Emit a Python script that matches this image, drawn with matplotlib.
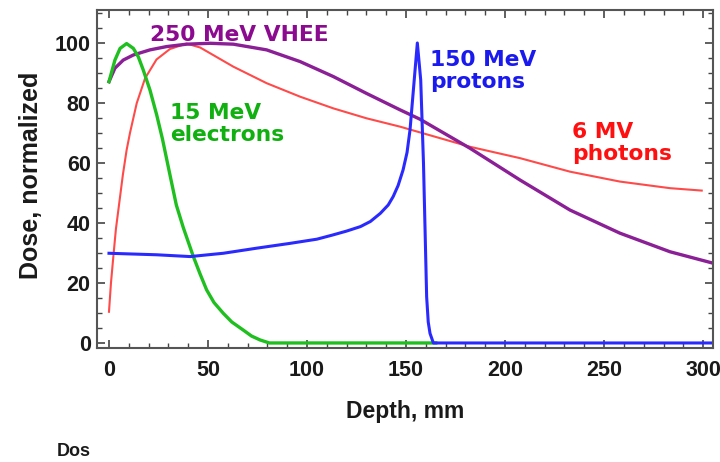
import matplotlib
matplotlib.use("Agg")
import matplotlib.pyplot as plt
from matplotlib.ticker import MultipleLocator

# depth (mm) / normalized dose
electron_depth = [0, 3, 5.6, 8.9, 12.3, 14.8, 17.3, 20.7, 24.1, 27, 30.8, 34, 37.5, 42.6, 46,
                  49.3, 53, 57.7, 62, 67.8, 72, 76.3, 81, 165]
electron_dose = [87.1, 94.3, 98.2, 99.8, 98.2, 95.4, 91, 84.3, 76, 68, 56, 46, 38.5, 28.8, 23,
                 17.7, 13.5, 9.9, 7, 4.3, 2.3, 1, 0, 0]

photon_depth = [0, 1, 2.2, 3.5, 5.6, 7, 8.9, 10.6, 14, 18.2, 24, 30.8, 39.2, 46, 62.8, 79.6,
                96.5, 113.3, 130, 147, 157, 182.3, 207.6, 232.8, 258, 283.3, 299.3]
photon_dose = [10.4, 20, 28.8, 38, 48.8, 56, 64.3, 70, 79.9, 88.2, 94.5, 98, 99.8, 98.5, 92.1,
               86.6, 82.1, 78.2, 74.9, 72.1, 70.2, 65.4, 61.6, 57.1, 53.8, 51.6, 50.8]

vhee_depth = [0, 3, 7.2, 12.3, 20.7, 29.1, 39.2, 51, 62.8, 79.6, 96.5, 113.3, 130, 147, 157,
              182.3, 207.6, 232.8, 258, 283.3, 305]
vhee_dose = [87.1, 91.6, 94.3, 96, 97.7, 98.8, 99.6, 99.9, 99.6, 97.7, 93.8, 88.8, 83.2, 77.7,
             74.6, 64.9, 54.3, 44.3, 36.6, 30.4, 26.6]

proton_depth = [0, 24, 41, 57.7, 74.6, 91.4, 105, 113, 120, 127, 132, 137, 141, 143.5,
                146, 148.5, 150.5, 152, 153.7, 155.7, 157.4, 158.8, 159.6, 160.4, 161.2,
                162.1, 163.8, 305]
proton_dose = [29.9, 29.4, 28.8, 29.9, 31.6, 33.2, 34.6, 36, 37.3, 38.8, 40.5, 43.2, 46,
               48.8, 52.5, 57.7, 63.5, 71, 84.3, 100, 87.7, 60, 37.7, 15.4, 7, 3.2, 0, 0]

x_ticks = [0, 50, 100, 150, 200, 250, 300]
y_ticks = [0, 20, 40, 60, 80, 100]

c_green = '#1fbf1f'
c_red = '#ff4a4a'
c_purple = '#8a1f96'
c_blue = '#2a2aff'

fig = plt.figure(figsize=(7.2, 4.62), dpi=100)
ax = fig.add_axes([0.1347, 0.2468, 0.8556, 0.7316])

ax.plot(photon_depth, photon_dose, color=c_red, lw=1.5)
ax.plot(vhee_depth, vhee_dose, color=c_purple, lw=2.4)
ax.plot(electron_depth, electron_dose, color=c_green, lw=2.4)
ax.plot(proton_depth, proton_dose, color=c_blue, lw=2.2)

ax.set_xlim(-6.06, 305)
ax.set_ylim(-1.67, 111)
ax.set_xticks(x_ticks)
ax.set_yticks(y_ticks)
ax.xaxis.set_minor_locator(MultipleLocator(10))
ax.yaxis.set_minor_locator(MultipleLocator(5))

tick_font = dict(family='Liberation Sans', weight='bold', size=15.5)
ax.set_xticklabels([str(v) for v in x_ticks], fontdict=tick_font, color='#1a1a1a')
ax.set_yticklabels([str(v) for v in y_ticks], fontdict=tick_font, color='#1a1a1a')
ax.tick_params(which='both', direction='in', top=True, right=True, color='#444444')
ax.tick_params(which='major', length=6, width=1.2)
ax.tick_params(which='minor', length=3.5, width=1.0)
ax.tick_params(axis='x', pad=8.5)
ax.tick_params(axis='y', pad=4.5)
for s in ax.spines.values():
    s.set_color('#555555')
    s.set_linewidth(1.5)

ax.set_xlabel('Depth, mm', family='Liberation Sans', weight='bold', size=16.5, color='#1a1a1a')
ax.xaxis.set_label_coords(0.5, -0.154)
ax.set_ylabel('Dose, normalized', family='Liberation Sans', weight='bold', size=18, color='#1a1a1a')
ax.yaxis.set_label_coords(-0.0877, 0.512)

lab = dict(family='DejaVu Sans', weight='bold', size=15.7, ha='left', va='top', linespacing=1.15)
ax.text(20.7, 106, '250 MeV VHEE', color='#8b0a8f', **lab)
ax.text(30.8, 80, '15 MeV\nelectrons', color='#10b010', **lab)
ax.text(162.1, 97.7, '150 MeV\nprotons', color='#1a1aee', **lab)
ax.text(233.8, 73.8, '6 MV\nphotons', color='#ff1010', **lab)

fig.text(57 / 720, 1 - 452 / 462, 'Dos', family='Liberation Sans', weight='bold', size=13,
         color='#1a1a1a', ha='left', va='center')

fig.savefig('out.png', dpi=100)
